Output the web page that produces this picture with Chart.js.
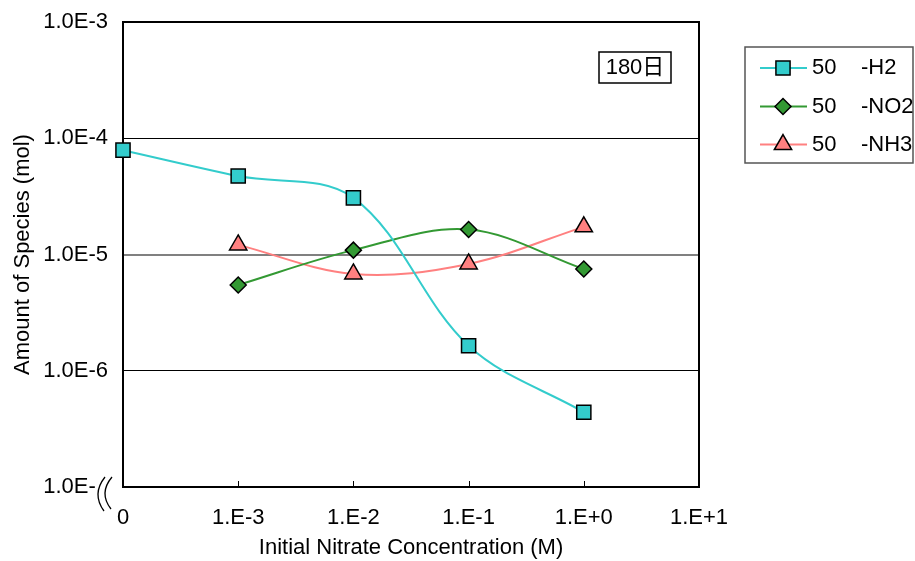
<!DOCTYPE html>
<html>
<head>
<meta charset="utf-8">
<script src="https://cdn.jsdelivr.net/npm/chart.js@4.4.0/dist/chart.umd.min.js"></script>
<style>
  html, body { margin: 0; padding: 0; background: #fff; }
  #wrap { width: 915px; height: 561px; }
</style>
</head>
<body>
<div id="wrap"><canvas id="c" width="915" height="561"></canvas></div>
<script>
// Category axis: initial nitrate concentration
const xTickLabels = ['0', '1.E-3', '1.E-2', '1.E-1', '1.E+0', '1.E+1'];
const xPositions = [0, 1, 2, 3, 4];

// Logarithmic amount axis
const yTickValues = [1e-7, 1e-6, 1e-5, 1e-4, 1e-3];
const yTickLabels = ['1.0E-7', '1.0E-6', '1.0E-5', '1.0E-4', '1.0E-3'];

// Species amounts (mol) at each concentration, 180 days
const seriesLabels = ['50    -H2', '50    -NO2', '50    -NH3'];
const h2  = [7.9e-5, 4.73e-5, 3.07e-5, 1.64e-6, 4.4e-7];
const no2 = [null, 5.47e-6, 1.09e-5, 1.64e-5, 7.5e-6];
const nh3 = [null, 1.21e-5, 6.8e-6, 8.3e-6, 1.73e-5];

const boxLabel = '180日';
const xTitle = 'Initial Nitrate Concentration (M)';
const yTitle = 'Amount of Species (mol)';

const FONT = '"Liberation Sans", Arial, "Noto Sans CJK JP", sans-serif';
Chart.defaults.font.family = FONT;
Chart.defaults.font.size = 22;
Chart.defaults.color = '#000';

function points(arr) {
  return xPositions.map((x, i) => ({ x: x, y: arr[i] })).filter(p => p.y !== null);
}

function series(label, arr, color, style, radius) {
  return {
    label: label,
    data: points(arr),
    borderColor: color,
    backgroundColor: color,
    borderWidth: 2,
    tension: 0.35,
    pointStyle: style,
    pointRadius: radius,
    pointHoverRadius: radius,
    pointBackgroundColor: color,
    pointBorderColor: '#000',
    pointBorderWidth: 1.5,
    clip: false
  };
}

// Plot frame, inner x tick marks, axis break, period box and legend
const framePlugin = {
  id: 'frame',
  beforeDatasetsDraw(chart) {
    const { ctx, chartArea: a, scales } = chart;
    ctx.save();
    ctx.strokeStyle = '#000';
    ctx.lineWidth = 1;
    for (let i = 1; i < xTickLabels.length - 1; i++) {
      const px = Math.round(scales.x.getPixelForValue(i)) + 0.5;
      ctx.beginPath();
      ctx.moveTo(px, a.bottom);
      ctx.lineTo(px, a.bottom - 6);
      ctx.stroke();
    }
    ctx.lineWidth = 2;
    ctx.strokeRect(a.left, a.top, a.right - a.left, a.bottom - a.top);
    ctx.restore();
  },
  afterDraw(chart) {
    const { ctx, chartArea: a } = chart;
    ctx.save();
    // axis break at the lower end of the amount axis
    const bx = a.left, by = a.bottom;
    ctx.fillStyle = '#fff';
    ctx.fillRect(bx - 27, by - 9, 15, 21);
    ctx.beginPath();
    ctx.moveTo(bx - 18, by - 10);
    ctx.quadraticCurveTo(bx - 31.5, by + 7, bx - 19, by + 24);
    ctx.lineTo(bx - 12, by + 22);
    ctx.quadraticCurveTo(bx - 24.5, by + 6, bx - 11, by - 10);
    ctx.closePath();
    ctx.fill();
    ctx.strokeStyle = '#000';
    ctx.lineWidth = 1.3;
    ctx.beginPath();
    ctx.moveTo(bx - 18, by - 10);
    ctx.quadraticCurveTo(bx - 31.5, by + 7, bx - 19, by + 24);
    ctx.stroke();
    ctx.beginPath();
    ctx.moveTo(bx - 11, by - 10);
    ctx.quadraticCurveTo(bx - 24.5, by + 6, bx - 12, by + 22);
    ctx.stroke();

    // period label box
    ctx.font = '22px ' + FONT;
    ctx.textBaseline = 'middle';
    ctx.textAlign = 'center';
    ctx.fillStyle = '#000';
    ctx.strokeStyle = '#000';
    ctx.lineWidth = 1.5;
    ctx.strokeRect(599, 52, 72, 31);
    ctx.fillText(boxLabel, 635, 68);

    // legend
    ctx.strokeStyle = '#555';
    ctx.lineWidth = 1.5;
    ctx.strokeRect(745, 47, 168, 116);
    const rows = [68, 106.5, 144.5];
    ctx.textAlign = 'left';
    chart.data.datasets.forEach((ds, i) => {
      const y = rows[i];
      ctx.strokeStyle = ds.borderColor;
      ctx.lineWidth = 2;
      ctx.beginPath();
      ctx.moveTo(760, y);
      ctx.lineTo(807, y);
      ctx.stroke();
      ctx.fillStyle = ds.pointBackgroundColor;
      ctx.strokeStyle = '#000';
      ctx.lineWidth = 1.5;
      Chart.helpers.drawPoint(ctx, {
        pointStyle: ds.pointStyle, radius: ds.pointRadius, rotation: 0, borderWidth: 1.5
      }, 783, y);
      ctx.fillStyle = '#000';
      ctx.fillText(ds.label, 812, y);
    });
    ctx.restore();
  }
};

new Chart(document.getElementById('c'), {
  type: 'line',
  data: {
    datasets: [
      series(seriesLabels[0], h2, '#33CCCC', 'rect', 10),
      series(seriesLabels[1], no2, '#339933', 'rectRot', 8),
      series(seriesLabels[2], nh3, '#FF8080', 'triangle', 10)
    ]
  },
  options: {
    responsive: false,
    animation: false,
    devicePixelRatio: 1,
    layout: { padding: { left: 0, top: 22, right: 216, bottom: 0 } },
    plugins: { legend: { display: false }, tooltip: { enabled: false } },
    scales: {
      x: {
        type: 'linear',
        min: 0,
        max: xTickLabels.length - 1,
        afterBuildTicks(s) { s.ticks = xTickLabels.map((_, i) => ({ value: i })); },
        afterFit(s) { s.height = 74; s.paddingLeft = 0; s.paddingRight = 0; },
        ticks: {
          autoSkip: false,
          maxRotation: 0,
          padding: 18,
          font: { size: 22 },
          color: '#000',
          callback: (v) => xTickLabels[v]
        },
        grid: { display: false, drawTicks: false },
        border: { display: false },
        title: { display: true, text: xTitle, font: { size: 22 }, color: '#000', padding: { top: 0, bottom: 0 } }
      },
      y: {
        type: 'logarithmic',
        min: yTickValues[0],
        max: yTickValues[yTickValues.length - 1],
        afterBuildTicks(s) { s.ticks = yTickValues.map(v => ({ value: v })); },
        afterFit(s) { s.width = 123; s.paddingTop = 0; s.paddingBottom = 0; },
        ticks: {
          autoSkip: false,
          padding: 15,
          font: { size: 22 },
          color: '#000',
          callback: (v) => yTickLabels[yTickValues.findIndex(t => Math.abs(Math.log10(t) - Math.log10(v)) < 1e-6)]
        },
        grid: {
          drawTicks: false,
          color: (c) => {
            const v = c.tick ? c.tick.value : 0;
            if (Math.abs(Math.log10(v) + 5) < 1e-6) return '#808080';
            if (Math.abs(Math.log10(v) + 4) < 1e-6 || Math.abs(Math.log10(v) + 6) < 1e-6) return '#000';
            return 'rgba(0,0,0,0)';
          },
          lineWidth: (c) => {
            const v = c.tick ? c.tick.value : 0;
            return Math.abs(Math.log10(v) + 5) < 1e-6 ? 2 : 1;
          }
        },
        border: { display: false },
        title: { display: true, text: yTitle, font: { size: 22 }, color: '#000', padding: { top: 10, bottom: 0 } }
      }
    }
  },
  plugins: [framePlugin]
});
</script>
</body>
</html>
